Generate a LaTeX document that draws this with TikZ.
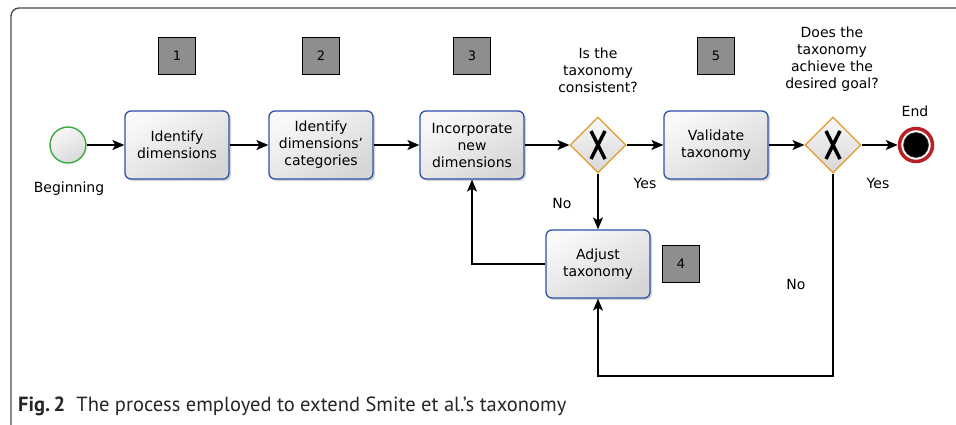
\documentclass[tikz,border=0pt]{standalone}
\usepackage{fontspec}
\setmainfont{DejaVu Sans}
\newfontfamily\capfont{PT Sans}
\usetikzlibrary{shapes.geometric,arrows.meta,shadows,calc}

\definecolor{taskblue}{HTML}{2D50A8}
\definecolor{gateorange}{HTML}{E29B2A}
\definecolor{startgreen}{HTML}{3DAA3D}
\definecolor{endred}{HTML}{B82025}
\definecolor{tagfill}{HTML}{8E8E8E}
\definecolor{framegray}{HTML}{4A4A4A}

\begin{document}
\begin{tikzpicture}[x=1pt,y=-1pt,
  font=\fontsize{14}{17}\selectfont,
  task/.style={draw=taskblue, line width=1.3pt, rounded corners=6pt,
    minimum width=104pt, minimum height=68pt, align=center,
    top color=gray!5, bottom color=gray!32, shading angle=30,
    drop shadow={shadow xshift=2pt, shadow yshift=-2pt, opacity=0.35, fill=gray}},
  tag/.style={draw=black, line width=0.9pt, fill=tagfill, minimum size=37pt, inner sep=0pt,
    font=\fontsize{13}{15}\selectfont},
  gate/.style={diamond, draw=gateorange, line width=1.2pt, minimum width=56pt,
    minimum height=56pt, inner sep=0pt, top color=gray!5, bottom color=gray!32},
  flow/.style={draw=black, line width=1.2pt, -{Stealth[length=12pt,width=10pt,inset=3pt]}},
  lbl/.style={align=center, inner sep=0pt},
  xmark/.style={line width=3.5pt, line cap=butt}
]
\useasboundingbox (0,0) rectangle (956,425);

% outer frame
\draw[framegray, line width=1.3pt, rounded corners=8pt] (11,425) -- (11,8) -- (956,8);

% events
\node[circle, draw=startgreen, line width=1.4pt, minimum size=36pt,
      top color=gray!5, bottom color=gray!30, shading angle=30] (start) at (68,145) {};
\node[circle, draw=endred, line width=3.5pt, fill=white, minimum size=33pt] (end) at (916,145) {};
\node[circle, fill=black, draw=gray!50!black, line width=0.6pt, minimum size=25pt, inner sep=0pt] (endcore) at (916,145) {};

% tasks
\node[task] (t1) at (177,145) {Identify\\dimensions};
\node[task] (t2) at (321,145) {Identify\\dimensions'\\categories};
\node[task] (t3) at (472,145) {Incorporate\\new\\dimensions};
\node[task] (t5) at (716,145) {Validate\\taxonomy};
\node[task] (t4) at (598,264) {Adjust\\taxonomy};

% gateways
\node[gate] (g1) at (598,145) {};
\node[gate] (g2) at (833,145) {};
\foreach \g in {g1,g2}{
  \draw[xmark] ($(\g)+(-7,-14)$) -- ($(\g)+(7,14)$);
  \draw[xmark] ($(\g)+(7,-14)$) -- ($(\g)+(-7,14)$);
}

% step numbers
\node[tag] (n1) at (177,56) {1};
\node[tag] (n2) at (321,56) {2};
\node[tag] (n3) at (472,56) {3};
\node[tag] (n4) at (681,264) {4};
\node[tag] (n5) at (716,56) {5};

% labels
\node[lbl] (lbeg) at (69,189) {Beginning};
\node[lbl] (q1) at (598,70) {Is the\\taxonomy\\consistent?};
\node[lbl] (q2) at (832,59) {Does the\\taxonomy\\achieve the\\desired goal?};
\node[lbl] (lend) at (915,111) {End};
\node[lbl] (yes1) at (645,183) {Yes};
\node[lbl] (no1) at (562,203) {No};
\node[lbl] (yes2) at (878,183) {Yes};
\node[lbl] (no2) at (796,284) {No};

% sequence flows
\draw[flow] (start) -- (t1);
\draw[flow] (t1) -- (t2);
\draw[flow] (t2) -- (t3);
\draw[flow] (t3) -- (g1);
\draw[flow] (g1) -- (t5);
\draw[flow] (t5) -- (g2);
\draw[flow] (g2) -- (end);
\draw[flow] (g1) -- (t4);
\draw[flow] (t4.west) -| (t3.south);
\coordinate (loop) at (833,376);
\draw[flow] (g2.south) -- (loop) -| (t4.south);

% caption
\node[anchor=base west, inner sep=0pt, text=black!85,
      font=\capfont\fontsize{20.5}{23}\selectfont] (cap) at (18,411)
  {\textbf{Fig.\,2}\hspace{0.55em}The process employed to extend Smite et al.’s taxonomy};
\end{tikzpicture}
\end{document}
